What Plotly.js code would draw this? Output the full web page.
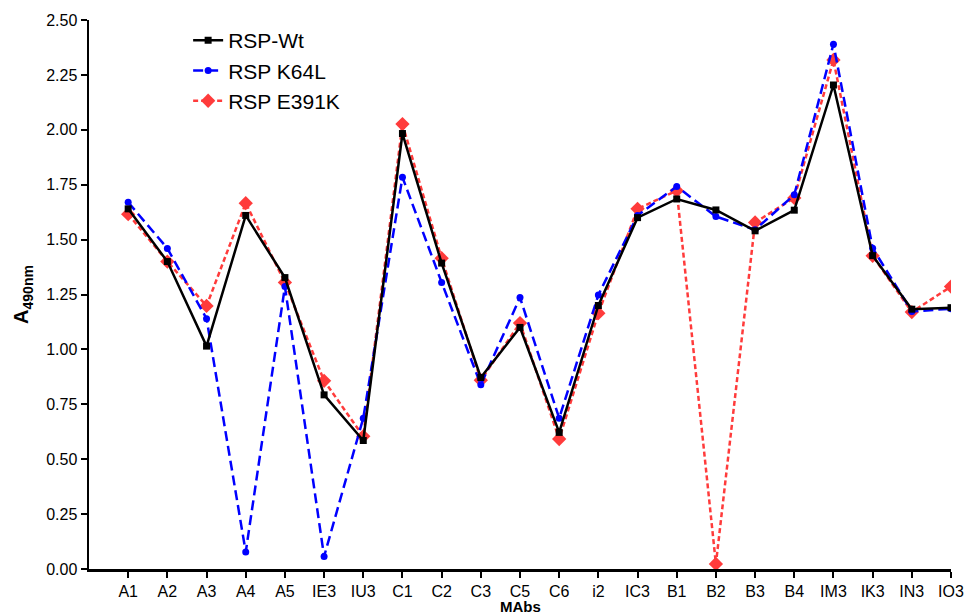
<!DOCTYPE html>
<html>
<head>
<meta charset="utf-8">
<script src="https://cdn.plot.ly/plotly-3.0.1.min.js"></script>
<style>html,body{margin:0;padding:0;background:#fff;}#chart{width:974px;height:614px;}</style>
</head>
<body>
<div id="chart"></div>
<script>
const categories = ["A1","A2","A3","A4","A5","IE3","IU3","C1","C2","C3","C5","C6","i2","IC3","B1","B2","B3","B4","IM3","IK3","IN3","IO3"];
const wt    = [1.64,1.40,1.015,1.61,1.327,0.793,0.585,1.983,1.393,0.872,1.10,0.622,1.20,1.60,1.685,1.635,1.54,1.634,2.204,1.427,1.183,1.19];
const k64l  = [1.67,1.46,1.14,0.077,1.286,0.057,0.687,1.784,1.305,0.839,1.236,0.687,1.248,1.61,1.742,1.605,1.545,1.704,2.39,1.461,1.173,1.185];
const e391k = [1.616,1.40,1.198,1.666,1.305,0.857,0.604,2.026,1.415,0.86,1.12,0.592,1.165,1.64,1.723,0.023,1.578,1.69,2.318,1.426,1.17,1.286];
const tickVals = [0,0.25,0.5,0.75,1.0,1.25,1.5,1.75,2.0,2.25,2.5];

const xIdx = categories.map((c,i)=>i);
const font = "Liberation Sans, Arial, Helvetica, sans-serif";

const traces = [
  {x:xIdx, y:e391k, name:"RSP E391K", type:"scatter", mode:"lines+markers", legendrank:3,
   line:{color:"#ff3b3b", width:2.5, dash:"5px,3px"}, marker:{symbol:"diamond", size:11, color:"#ff3b3b"}},
  {x:xIdx, y:k64l, name:"RSP K64L", type:"scatter", mode:"lines+markers", legendrank:2,
   line:{color:"#0000ff", width:2.5, dash:"10px,5px"}, marker:{symbol:"circle", size:7, color:"#0000ff"}},
  {x:xIdx, y:wt, name:"RSP-Wt", type:"scatter", mode:"lines+markers", legendrank:1,
   line:{color:"#000000", width:2.5}, marker:{symbol:"square", size:7, color:"#000000"}}
];

const layout = {
  width:974, height:614,
  margin:{l:89, r:23, t:20, b:45},
  paper_bgcolor:"#fff", plot_bgcolor:"#fff",
  font:{family:font, color:"#000"},
  showlegend:true,
  legend:{x:0.115, y:1.0, xanchor:"left", yanchor:"top", font:{size:21, family:font}, bgcolor:"rgba(0,0,0,0)", itemwidth:30, tracegroupgap:0},
  xaxis:{
    range:[-1,21], tickmode:"array", tickvals:xIdx, ticktext:categories,
    showgrid:false, zeroline:false, showline:true, linecolor:"#000", linewidth:2.5,
    ticks:"outside", ticklen:6, tickwidth:2, tickcolor:"#000",
    tickfont:{size:16, family:font}
  },
  yaxis:{
    range:[0,2.5], tickmode:"array", tickvals:tickVals, ticktext:tickVals.map(v=>v.toFixed(2)),
    showgrid:false, zeroline:false, showline:true, linecolor:"#000", linewidth:2.5,
    ticks:"outside", ticklen:6, tickwidth:2, tickcolor:"#000",
    tickfont:{size:16, family:font},
    title:{text:"<b>A<sub>490nm</sub></b>", font:{size:20, family:font}, standoff:12}
  },
  annotations:[
    {text:"<b>MAbs</b>", xref:"paper", yref:"paper", x:0.5, y:0, yshift:-37, xanchor:"center", yanchor:"middle",
     borderpad:0, showarrow:false, font:{size:15, family:font}}
  ]
};

Plotly.newPlot("chart", traces, layout, {displayModeBar:false, staticPlot:true});
</script>
</body>
</html>
